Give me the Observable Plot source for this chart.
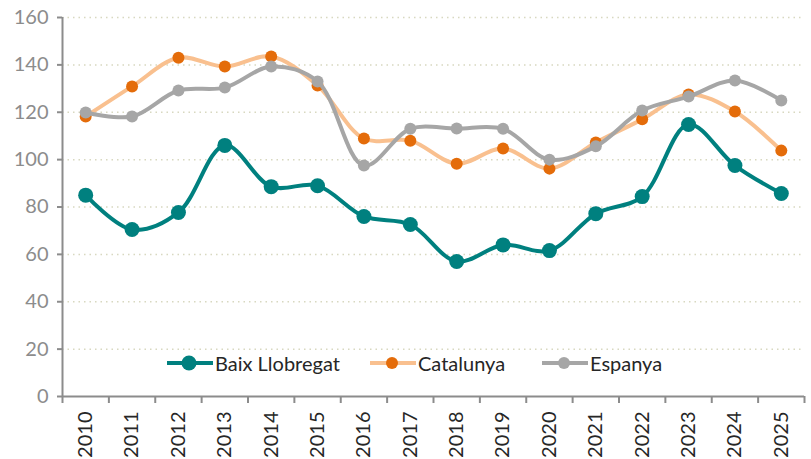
<!DOCTYPE html>
<html>
<head>
<meta charset="utf-8">
<script src="https://cdn.jsdelivr.net/npm/d3@7"></script>
<script src="https://cdn.jsdelivr.net/npm/@observablehq/plot@0.6"></script>
<style>
  html, body { margin: 0; padding: 0; background: #fff; }
  #wrap { position: relative; width: 811px; height: 459px; font-family: Lato, "Open Sans", sans-serif; }
  .legend { position: absolute; top: 351px; left: 0; width: 811px; height: 24px; font-size: 20px; color: #262626; }
  .item { position: absolute; display: flex; align-items: center; height: 24px; }
  .item svg { margin-right: 2px; }
</style>
</head>
<body>
<div id="wrap"></div>
<script>
const years = [2010,2011,2012,2013,2014,2015,2016,2017,2018,2019,2020,2021,2022,2023,2024,2025];
const baixLlobregat = [85,70.5,77.7,106,88.6,89,76,72.6,57,64,61.6,77.2,84.4,114.8,97.5,85.7];
const catalunya = [118.2,130.9,143,139.3,143.5,131.3,108.9,108,98.3,104.7,96.2,107.2,117,127.5,120.3,103.8];
const espanya = [119.9,118.2,129.2,130.4,139.3,133,97.5,113,113.1,113,100,105.6,120.7,126.6,133.4,125];
const seriesNames = ["Baix Llobregat", "Catalunya", "Espanya"];
const yTicks = [0,20,40,60,80,100,120,140,160];

const lineColors = {"Baix Llobregat": "#00807f", "Catalunya": "#f9c08f", "Espanya": "#a6a6a6"};
const dotColors = {"Baix Llobregat": "#00807f", "Catalunya": "#e46c0a", "Espanya": "#a6a6a6"};
const dotR = {"Baix Llobregat": 7.5, "Catalunya": 6, "Espanya": 6};

const values = [baixLlobregat, catalunya, espanya];
const rows = seriesNames.flatMap((s, i) => years.map((yr, j) => ({series: s, year: yr, value: values[i][j]})));
const bounds = years.map(y => y - 0.5).concat([years[years.length - 1] + 0.5]);

const drawOrder = ["Catalunya", "Espanya", "Baix Llobregat"];
const seriesMarks = drawOrder.flatMap(s => {
  const d = rows.filter(r => r.series === s);
  return [
    Plot.line(d, {x: "year", y: "value", stroke: lineColors[s], strokeWidth: 4, curve: "catmull-rom"}),
    Plot.dot(d, {x: "year", y: "value", fill: dotColors[s], r: dotR[s], stroke: "none"})
  ];
});

const chart = Plot.plot({
  width: 811,
  height: 459,
  marginLeft: 62,
  marginRight: 7,
  marginTop: 17,
  marginBottom: 63,
  style: {fontFamily: "Lato, 'Open Sans', sans-serif", background: "#fff"},
  x: {type: "linear", domain: [bounds[0], bounds[bounds.length - 1]]},
  y: {domain: [0, 160]},
  marks: [
    Plot.gridY(yTicks.filter(t => t > 0), {stroke: "#d8d8c0", strokeOpacity: 1, strokeWidth: 1.5, strokeDasharray: "1.5,4"}),
    Plot.axisY(yTicks, {tickSize: 5, tickPadding: 9, stroke: "#8c8c8c", fill: "#8c8c8c", fontSize: 20, label: null, strokeWidth: 2}),
    Plot.axisX(bounds, {tickSize: 7, tickFormat: () => "", stroke: "#8c8c8c", strokeWidth: 2, label: null}),
    Plot.axisX(years, {tickSize: 0, tickPadding: 15, tickRotate: -90, tickFormat: d => String(d), fontSize: 20, fill: "#262626", label: null}),
    Plot.ruleX([bounds[0]], {y1: 0, y2: 160, stroke: "#8c8c8c", strokeWidth: 2}),
    Plot.ruleY([0], {stroke: "#8c8c8c", strokeWidth: 2}),
    ...seriesMarks
  ]
});

const wrap = document.getElementById("wrap");
wrap.appendChild(chart);

const legend = document.createElement("div");
legend.className = "legend";
const legendLeft = {"Baix Llobregat": 167, "Catalunya": 370, "Espanya": 542};
seriesNames.forEach(s => {
  const it = document.createElement("div");
  it.className = "item";
  it.style.left = legendLeft[s] + "px";
  it.innerHTML = `<svg width="46" height="24"><line x1="0" y1="12" x2="46" y2="12" stroke="${lineColors[s]}" stroke-width="4"/><circle cx="22" cy="12" r="${dotR[s]}" fill="${dotColors[s]}"/></svg><span>${s}</span>`;
  legend.appendChild(it);
});
wrap.appendChild(legend);
</script>
</body>
</html>
